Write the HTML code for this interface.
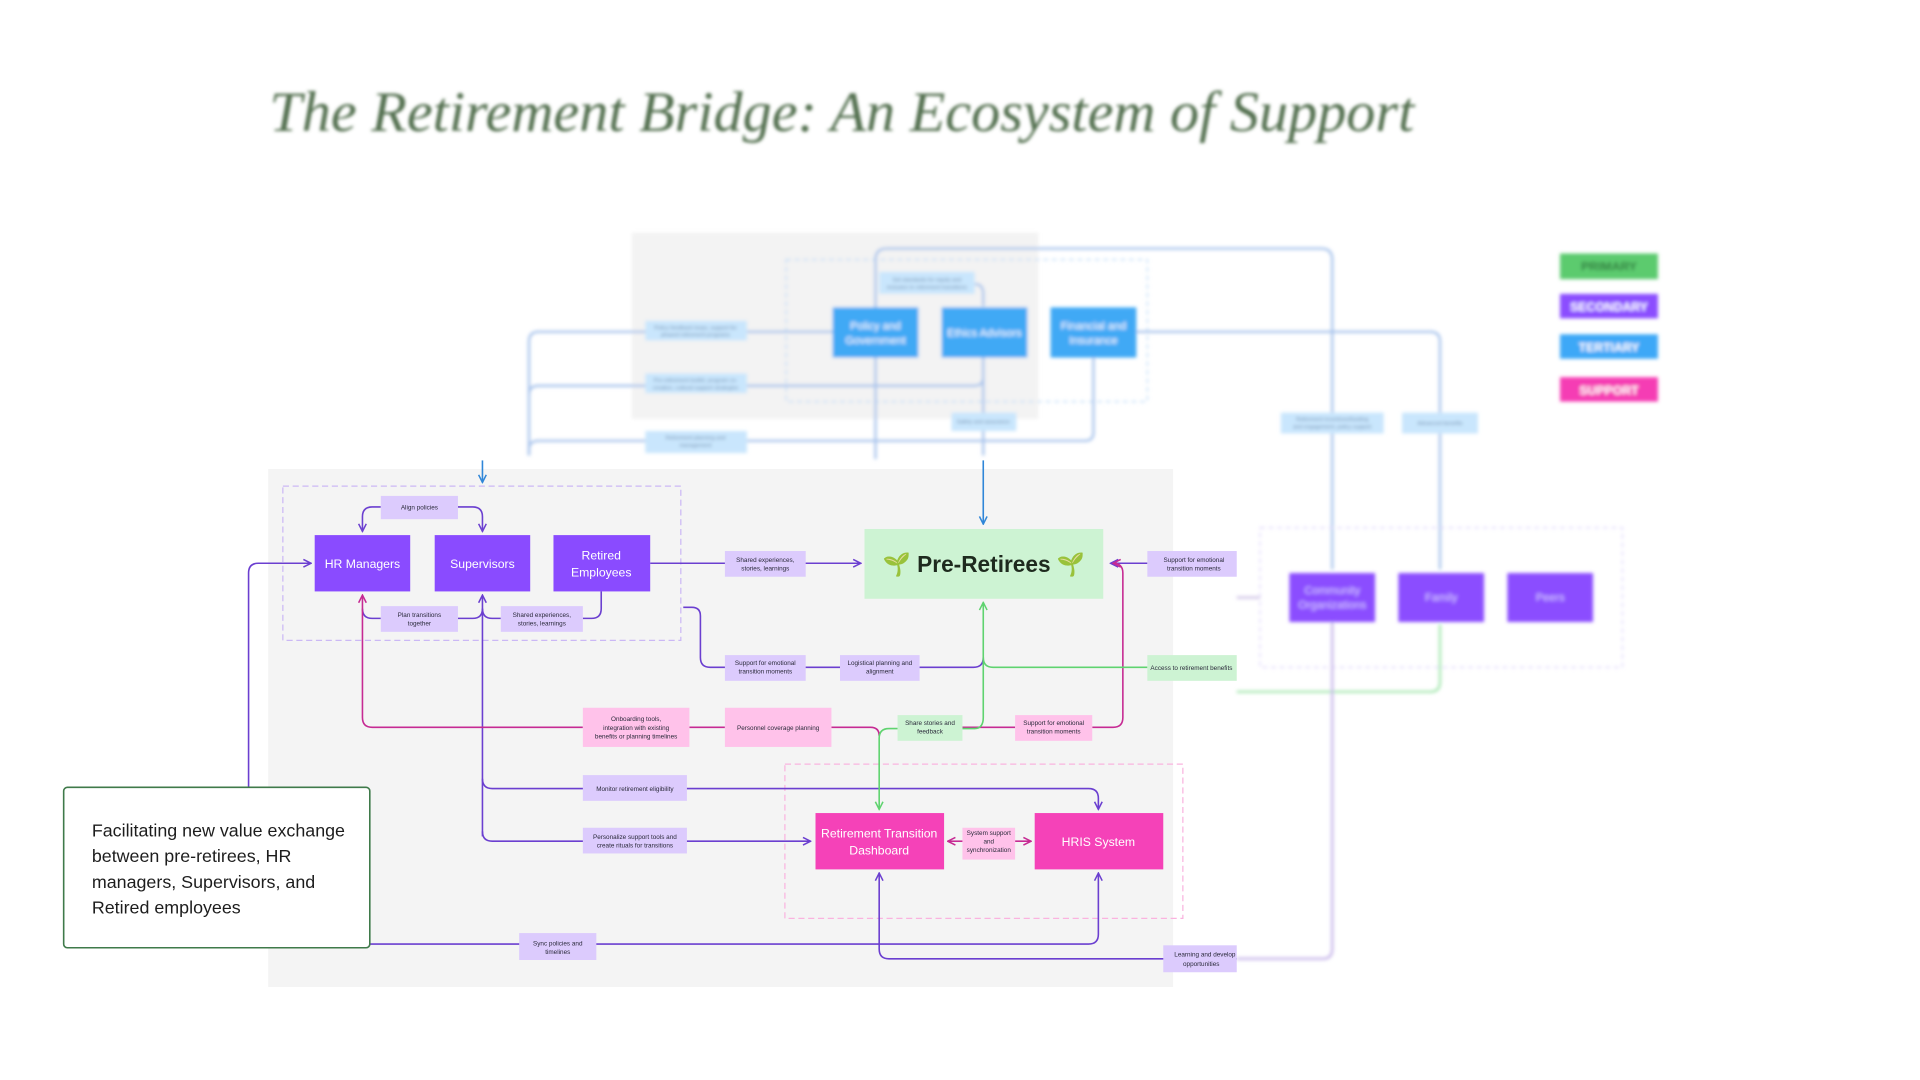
<!DOCTYPE html>
<html><head><meta charset="utf-8"><style>
html,body{margin:0;padding:0;background:#fff;width:1920px;height:1080px;overflow:hidden}
svg{display:block}
text{font-family:"Liberation Sans",sans-serif}
</style></head><body>
<svg width="1920" height="1080" viewBox="0 0 1568 882" preserveAspectRatio="none" xmlns="http://www.w3.org/2000/svg">
<defs>
<filter id="b1" x="-5%" y="-5%" width="110%" height="110%"><feGaussianBlur stdDeviation="1.6"/></filter>
<filter id="b2" x="-5%" y="-5%" width="110%" height="110%"><feGaussianBlur stdDeviation="1.2"/></filter>
<marker id="ap" viewBox="0 0 10 10" refX="9" refY="5" markerWidth="6" markerHeight="6" orient="auto"><path d="M1,1 L9,5 L1,9" fill="none" stroke="#6b3fd0" stroke-width="1.6"/></marker>
<marker id="ak" viewBox="0 0 10 10" refX="9" refY="5" markerWidth="6" markerHeight="6" orient="auto"><path d="M1,1 L9,5 L1,9" fill="none" stroke="#c62a93" stroke-width="1.6"/></marker>
<marker id="ag" viewBox="0 0 10 10" refX="9" refY="5" markerWidth="6" markerHeight="6" orient="auto"><path d="M1,1 L9,5 L1,9" fill="none" stroke="#5fd36f" stroke-width="1.6"/></marker>
<marker id="ab" viewBox="0 0 10 10" refX="9" refY="5" markerWidth="6" markerHeight="6" orient="auto"><path d="M1,1 L9,5 L1,9" fill="none" stroke="#2f86d8" stroke-width="1.6"/></marker>
</defs>

<!-- Title -->
<text x="220" y="107" style="font-family:'Liberation Serif',serif;font-style:italic" font-size="47" fill="#53704f" filter="url(#b2)" textLength="935" lengthAdjust="spacingAndGlyphs">The Retirement Bridge: An Ecosystem of Support</text>

<!-- Blurred top/right region -->
<g filter="url(#b1)">
<rect x="516" y="190" width="332" height="152" fill="#f3f3f3"/>
<rect x="642" y="212" width="295" height="116" fill="none" stroke="#b9d8f7" stroke-width="1" stroke-dasharray="4,3"/>
<g fill="none" stroke="#a9c4ec" stroke-width="2">
<path d="M715,292 V212 Q715,203 724,203 H1079 Q1088,203 1088,212 V465"/>
<path d="M928,271 H1168 Q1176,271 1176,279 V465"/>
<path d="M432,372 V279 Q432,271 440,271 H680"/>
<path d="M432,322 Q432,315 440,315 H796 Q803,315 803,308"/>
<path d="M432,372 V367 Q432,360 440,360 H886 Q893,360 893,353 V292"/>
<path d="M715,292 V375"/>
<path d="M796,232 Q803,232 803,240 V250"/>
<path d="M803,292 V372"/>
</g>
<rect x="680" y="251" width="70" height="41" fill="#3fa9f5"/>
<rect x="769" y="251" width="70" height="41" fill="#3fa9f5"/>
<rect x="858" y="251" width="70" height="41" fill="#3fa9f5"/>
<g fill="#fff" font-size="9" text-anchor="middle">
<text x="715" y="269">Policy and</text><text x="715" y="281">Government</text>
<text x="804" y="275">Ethics Advisors</text>
<text x="893" y="269">Financial and</text><text x="893" y="281">Insurance</text>
</g>
<g fill="#c9e6fd">
<rect x="718" y="222" width="78" height="18"/>
<rect x="527" y="262" width="83" height="16"/>
<rect x="527" y="305" width="83" height="16"/>
<rect x="527" y="352" width="83" height="18"/>
<rect x="777" y="337" width="53" height="15"/>
<rect x="1046" y="337" width="84" height="17"/>
<rect x="1145" y="337" width="62" height="17"/>
</g>
<g fill="#6a88a8" font-size="4.5" text-anchor="middle">
<text x="757" y="230">Set standards for equity and</text><text x="757" y="236">inclusion in retirement transitions</text>
<text x="568" y="269">Policy feedback loops, support for</text><text x="568" y="275">phased retirement programs</text>
<text x="568" y="312">Pre-retirement toolkit, program co-</text><text x="568" y="318">creation, cultural support strategies</text>
<text x="568" y="359">Retirement planning and</text><text x="568" y="365">management</text>
<text x="803" y="346">Safety and assurance</text>
<text x="1088" y="344">Retirement incentives/funding</text><text x="1088" y="350">and engagement, policy support</text>
<text x="1176" y="347">Advanced benefits</text>
</g>
<!-- legend -->
<rect x="1274" y="207" width="80" height="21" fill="#5ccb6e"/>
<rect x="1274" y="240" width="80" height="20" fill="#8b4dff"/>
<rect x="1274" y="273" width="80" height="20" fill="#3ea8f7"/>
<rect x="1274" y="308" width="80" height="20" fill="#f53cb4"/>
<g font-size="10" font-weight="bold" text-anchor="middle">
<text x="1314" y="221" fill="#2f7a3c">PRIMARY</text>
<text x="1314" y="254" fill="#fff">SECONDARY</text>
<text x="1314" y="287" fill="#fff">TERTIARY</text>
<text x="1314" y="322" fill="#fff">SUPPORT</text>
</g>
<!-- right group -->
<rect x="1029" y="431" width="296" height="114" fill="none" stroke="#dcd2fb" stroke-width="1" stroke-dasharray="4,3"/>
<path d="M1010,488 H1029" stroke="#cfc3e6" stroke-width="2"/>
<path d="M1010,565 H1168 Q1176,565 1176,557 V510" fill="none" stroke="#a8e8b2" stroke-width="2"/>
<path d="M1088,508 V775 Q1088,783 1080,783 H1010" fill="none" stroke="#c8b7ea" stroke-width="2"/>
<rect x="1053" y="468" width="70" height="40" fill="#8b4dff"/>
<rect x="1142" y="468" width="70" height="40" fill="#8b4dff"/>
<rect x="1231" y="468" width="70" height="40" fill="#8b4dff"/>
<g fill="#d9c8ff" font-size="9" text-anchor="middle">
<text x="1088" y="485">Community</text><text x="1088" y="497">Organizations</text>
<text x="1177" y="491">Family</text>
<text x="1266" y="491">Peers</text>
</g>
</g>

<!-- Main panel -->
<rect x="219" y="383" width="739" height="423" fill="#f4f4f4"/>
<rect x="231" y="397" width="325" height="126" fill="none" stroke="#cbb8f5" stroke-width="1" stroke-dasharray="5,3"/>
<rect x="641" y="624" width="325" height="126" fill="none" stroke="#fab3df" stroke-width="1" stroke-dasharray="5,3"/>

<!-- blue arrows into panel -->
<path d="M394,376 V394" stroke="#2f86d8" stroke-width="1.3" marker-end="url(#ab)"/>
<path d="M803,376 V428" stroke="#2f86d8" stroke-width="1.3" marker-end="url(#ab)"/>

<!-- purple connectors -->
<g fill="none" stroke="#6b3fd0" stroke-width="1.3">
<path d="M203,771 V468 Q203,460 211,460 H254" marker-end="url(#ap)"/>
<path d="M203,771 H889 Q897,771 897,763 V713" marker-end="url(#ap)"/>
<path d="M311,414 H304 Q296,414 296,422 V434" marker-end="url(#ap)"/>
<path d="M374,414 H386 Q394,414 394,422 V434" marker-end="url(#ap)"/>
<path d="M296,497 Q296,505 304,505 H311"/>
<path d="M374,505 H386 Q394,505 394,497"/>
<path d="M394,497 Q394,505 402,505 H409"/>
<path d="M476,505 H483 Q491,505 491,497 V483"/>
<path d="M394,683 V486" marker-end="url(#ap)"/>
<path d="M394,679 Q394,687 402,687 H662" marker-end="url(#ap)"/>
<path d="M394,636 Q394,644 402,644 H889 Q897,644 897,652 V661" marker-end="url(#ap)"/>
<path d="M531,460 H703" marker-end="url(#ap)"/>
<path d="M558,496 H565 Q572,496 572,503 V537 Q572,545 580,545 H795 Q803,545 803,537"/>
<path d="M937,460 H907" marker-end="url(#ap)"/>
<path d="M1010,783 H726 Q718,783 718,775 V713" marker-end="url(#ap)"/>
</g>
<!-- pink connectors -->
<g fill="none" stroke="#c62a93" stroke-width="1.3">
<path d="M476,594 H304 Q296,594 296,586 V486" marker-end="url(#ak)"/>
<path d="M563,594 H592"/>
<path d="M679,594 H711 Q718,594 718,601"/>
<path d="M786,594 H829"/>
<path d="M892,594 H909 Q917,594 917,586 V468 Q917,460 909,460" marker-end="url(#ak)"/>
<path d="M786,687 H774" marker-end="url(#ak)"/>
<path d="M829,687 H842" marker-end="url(#ak)"/>
</g>
<!-- green connectors -->
<g fill="none" stroke="#5fd36f" stroke-width="1.3">
<path d="M803,586 V492" marker-end="url(#ag)"/>
<path d="M937,545 H811 Q803,545 803,537"/>
<path d="M733,595 H726 Q718,595 718,603 V661" marker-end="url(#ag)"/>
<path d="M786,595 H796 Q803,595 803,586"/>
</g>

<!-- secondary boxes -->
<rect x="257" y="437" width="78" height="46" fill="#8a4bff"/>
<rect x="355" y="437" width="78" height="46" fill="#8a4bff"/>
<rect x="452" y="437" width="79" height="46" fill="#8a4bff"/>
<g fill="#fff" font-size="10" text-anchor="middle">
<text x="296" y="464">HR Managers</text>
<text x="394" y="464">Supervisors</text>
<text x="491" y="457">Retired</text><text x="491" y="471">Employees</text>
</g>
<rect x="706" y="432" width="195" height="57" fill="#cdf3d3"/>
<text x="803.5" y="467" font-size="18.5" font-weight="bold" fill="#1e2a1e" text-anchor="middle"><tspan fill="#4caf50">🌱</tspan> Pre-Retirees <tspan fill="#4caf50">🌱</tspan></text>

<rect x="666" y="664" width="105" height="46" fill="#f542b8"/>
<rect x="845" y="664" width="105" height="46" fill="#f542b8"/>
<g fill="#fff" font-size="10" text-anchor="middle">
<text x="718" y="684">Retirement Transition</text><text x="718" y="698">Dashboard</text>
<text x="897" y="691">HRIS System</text>
</g>

<!-- labels -->
<g fill="#dccbfd">
<rect x="311" y="405" width="63" height="19"/>
<rect x="311" y="495" width="63" height="21"/>
<rect x="409" y="495" width="67" height="21"/>
<rect x="592" y="450" width="66" height="21"/>
<rect x="592" y="535" width="66" height="21"/>
<rect x="686" y="535" width="65" height="21"/>
<rect x="937" y="450" width="73" height="21"/>
<rect x="476" y="633" width="85" height="21"/>
<rect x="476" y="676" width="85" height="21"/>
<rect x="424" y="762" width="63" height="22"/>
<rect x="950" y="772" width="60" height="22"/>
</g>
<g fill="#ffc2ea">
<rect x="476" y="578" width="87" height="32"/>
<rect x="592" y="578" width="87" height="32"/>
<rect x="829" y="584" width="63" height="21"/>
<rect x="786" y="676" width="43" height="26"/>
</g>
<g fill="#cdf3d3">
<rect x="733" y="584" width="53" height="21"/>
<rect x="937" y="535" width="73" height="21"/>
</g>
<g fill="#2a2a3a" font-size="5.2" text-anchor="middle">
<text x="342.5" y="416">Align policies</text>
<text x="342.5" y="504">Plan transitions</text><text x="342.5" y="511">together</text>
<text x="442.5" y="504">Shared experiences,</text><text x="442.5" y="511">stories, learnings</text>
<text x="625" y="459">Shared experiences,</text><text x="625" y="466">stories, learnings</text>
<text x="625" y="543">Support for emotional</text><text x="625" y="550">transition moments</text>
<text x="718.5" y="543">Logistical planning and</text><text x="718.5" y="550">alignment</text>
<text x="975" y="459">Support for emotional</text><text x="975" y="466">transition moments</text>
<text x="973" y="547">Access to retirement benefits</text>
<text x="519.5" y="589">Onboarding tools,</text><text x="519.5" y="596">integration with existing</text><text x="519.5" y="603">benefits or planning timelines</text>
<text x="635.5" y="596">Personnel coverage planning</text>
<text x="759.5" y="592">Share stories and</text><text x="759.5" y="599">feedback</text>
<text x="860.5" y="592">Support for emotional</text><text x="860.5" y="599">transition moments</text>
<text x="518.5" y="646">Monitor retirement eligibility</text>
<text x="518.5" y="685">Personalize support tools and</text><text x="518.5" y="692">create rituals for transitions</text>
<text x="807.5" y="682">System support</text><text x="807.5" y="689">and</text><text x="807.5" y="696">synchronization</text>
<text x="455.5" y="772">Sync policies and</text><text x="455.5" y="779">timelines</text>
<text x="984" y="781">Learning and develop</text><text x="981" y="789">opportunities</text>
</g>

<!-- text box -->
<rect x="52" y="643" width="250" height="131" rx="3" fill="#fff" stroke="#3f7a4a" stroke-width="1.3"/>
<g fill="#1d1d1d" font-size="14.6">
<text x="75" y="683">Facilitating new value exchange</text>
<text x="75" y="704">between pre-retirees, HR</text>
<text x="75" y="725">managers, Supervisors, and</text>
<text x="75" y="746">Retired employees</text>
</g>
</svg>
</body></html>
